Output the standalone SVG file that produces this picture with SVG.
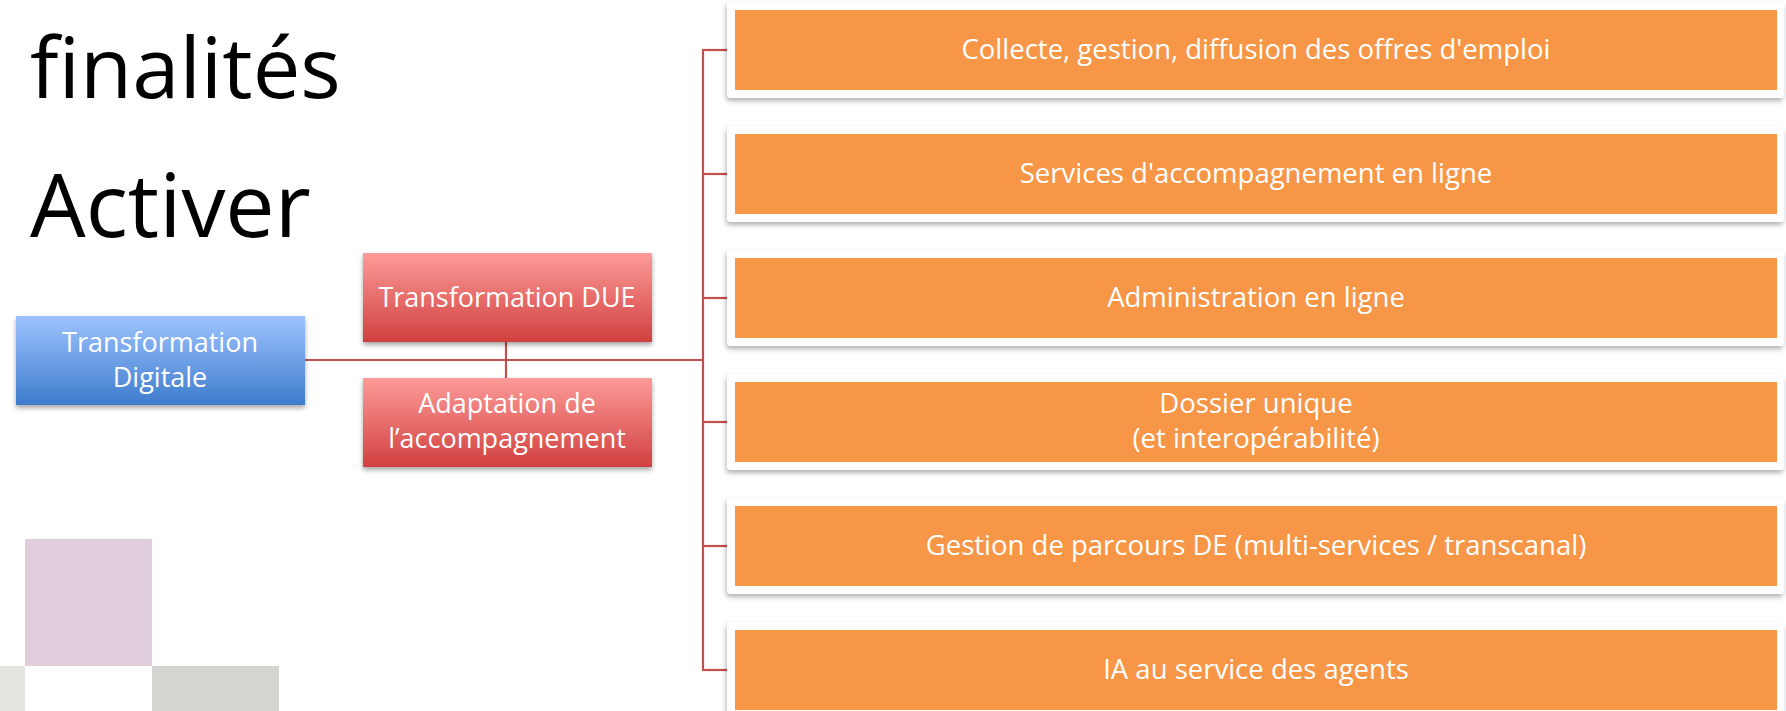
<svg xmlns="http://www.w3.org/2000/svg" width="1786" height="711" viewBox="0 0 1786 711">
<defs>
<linearGradient id="gBlue" x1="0" y1="0" x2="0" y2="1">
<stop offset="0" stop-color="#9dc3ff"/>
<stop offset="1" stop-color="#3e7ccc"/>
</linearGradient>
<linearGradient id="gRed" x1="0" y1="0" x2="0" y2="1">
<stop offset="0" stop-color="#fd9b98"/>
<stop offset="1" stop-color="#d0403f"/>
</linearGradient>
<filter id="sh" x="-5%" y="-10%" width="110%" height="130%">
<feDropShadow dx="0" dy="3" stdDeviation="2.5" flood-color="#000" flood-opacity="0.35"/>
</filter>
<filter id="shc" x="-2%" y="-10%" width="104%" height="130%">
<feDropShadow dx="-1" dy="3" stdDeviation="2.5" flood-color="#000" flood-opacity="0.3"/>
</filter>
</defs>
<style>
.title{font-family:"Open Sans","Liberation Sans",sans-serif;font-size:85px;fill:#000}
.lbl{font-family:"Open Sans","Liberation Sans",sans-serif;font-size:27px;fill:#fff;text-anchor:middle}
.olbl{font-size:27.5px}
.card{fill:#fff;filter:url(#shc)}
.orange{fill:#f79646}
.conn{stroke:#c0504d;stroke-width:2.2;fill:none}
</style>
<rect width="1786" height="711" fill="#fff"/>
<g id="decor">
<rect x="25" y="539" width="127" height="127" fill="#e0cedd"/>
<rect x="0" y="666" width="25" height="45" fill="#e4e4e0"/>
<rect x="152" y="666" width="127" height="45" fill="#d4d4d0"/>
</g>
<g id="titles">
<text class="title" x="30" y="98">finalités</text>
<text class="title" x="30" y="237" style="font-size:88px">Activer</text>
</g>
<g id="connectors">
<line class="conn" x1="305" y1="360" x2="703" y2="360"/>
<line class="conn" x1="506" y1="342" x2="506" y2="378"/>
<line class="conn" x1="703" y1="50" x2="703" y2="670"/>
<line class="conn" x1="702" y1="50" x2="728" y2="50"/>
<line class="conn" x1="702" y1="174" x2="728" y2="174"/>
<line class="conn" x1="702" y1="298" x2="728" y2="298"/>
<line class="conn" x1="702" y1="422" x2="728" y2="422"/>
<line class="conn" x1="702" y1="546" x2="728" y2="546"/>
<line class="conn" x1="702" y1="670" x2="728" y2="670"/>
</g>
<g id="node-digitale">
<rect x="16" y="316" width="289" height="89" fill="url(#gBlue)" filter="url(#sh)"/>
<text class="lbl" x="160" y="352">Transformation</text>
<text class="lbl" x="160" y="387">Digitale</text>
</g>
<g id="node-due">
<rect x="363" y="253" width="289" height="89" fill="url(#gRed)" filter="url(#sh)"/>
<text class="lbl" x="507" y="307">Transformation DUE</text>
</g>
<g id="node-adaptation">
<rect x="363" y="378" width="289" height="89" fill="url(#gRed)" filter="url(#sh)"/>
<text class="lbl" x="507" y="413">Adaptation de</text>
<text class="lbl" x="507" y="448">l’accompagnement</text>
</g>
<g id="node-offres">
<rect class="card" x="727" y="2" width="1057" height="96" rx="4"/>
<rect class="orange" x="735" y="10" width="1042" height="80"/>
<text class="lbl olbl" x="1256" y="59">Collecte, gestion, diffusion des offres d'emploi</text>
</g>
<g id="node-services">
<rect class="card" x="727" y="126" width="1057" height="96" rx="4"/>
<rect class="orange" x="735" y="134" width="1042" height="80"/>
<text class="lbl olbl" x="1256" y="183">Services d'accompagnement en ligne</text>
</g>
<g id="node-administration">
<rect class="card" x="727" y="250" width="1057" height="96" rx="4"/>
<rect class="orange" x="735" y="258" width="1042" height="80"/>
<text class="lbl olbl" x="1256" y="307">Administration en ligne</text>
</g>
<g id="node-dossier">
<rect class="card" x="727" y="374" width="1057" height="96" rx="4"/>
<rect class="orange" x="735" y="382" width="1042" height="80"/>
<text class="lbl olbl" x="1256" y="413">Dossier unique</text>
<text class="lbl olbl" x="1256" y="448">(et interopérabilité)</text>
</g>
<g id="node-parcours">
<rect class="card" x="727" y="498" width="1057" height="96" rx="4"/>
<rect class="orange" x="735" y="506" width="1042" height="80"/>
<text class="lbl olbl" x="1256" y="555">Gestion de parcours DE (multi-services / transcanal)</text>
</g>
<g id="node-ia">
<rect class="card" x="727" y="622" width="1057" height="96" rx="4"/>
<rect class="orange" x="735" y="630" width="1042" height="80"/>
<text class="lbl olbl" x="1256" y="679">IA au service des agents</text>
</g>
</svg>
